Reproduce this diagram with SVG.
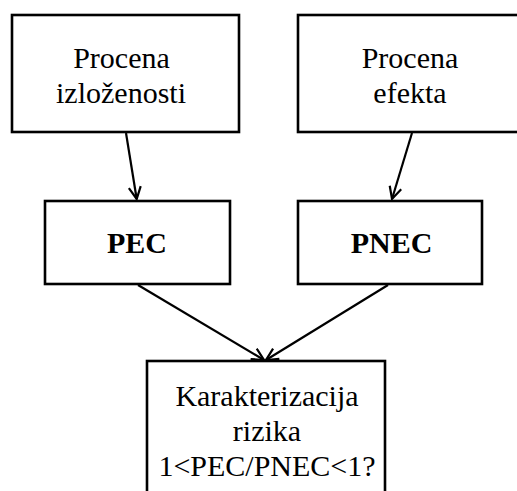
<svg xmlns="http://www.w3.org/2000/svg" width="517" height="491" viewBox="0 0 517 491">
<style>
.box{fill:#fff;stroke:#000;stroke-width:2.6}
.t{font-family:"Liberation Serif","Times New Roman",serif;font-size:30px;fill:#000;text-anchor:middle}
.b{font-weight:bold}
.c{stroke:#000;stroke-width:2.2;fill:none}
</style>
<defs>
<marker id="ah" markerUnits="userSpaceOnUse" markerWidth="16" markerHeight="16" refX="13" refY="7" orient="auto">
<path d="M1,1 L13,7 L1,13" fill="none" stroke="#000" stroke-width="2.2"/>
</marker>
</defs>
<rect width="517" height="491" fill="#fff"/>
<g id="connectors">
<line class="c" x1="126" y1="133" x2="136.7" y2="199" marker-end="url(#ah)"/>
<line class="c" x1="412" y1="133" x2="392" y2="199" marker-end="url(#ah)"/>
<line class="c" x1="138" y1="285" x2="264" y2="360" marker-end="url(#ah)"/>
<line class="c" x1="388" y1="285" x2="266" y2="360" marker-end="url(#ah)"/>
</g>
<g id="n1">
<rect class="box" x="12" y="15" width="227" height="117"/>
<text class="t" x="121.5" y="68">Procena</text>
<text class="t" x="121" y="103">izloženosti</text>
</g>
<g id="n2">
<rect class="box" x="298" y="15" width="230" height="117"/>
<text class="t" x="410" y="68">Procena</text>
<text class="t" x="410" y="103">efekta</text>
</g>
<g id="n3">
<rect class="box" x="45" y="201" width="185" height="83"/>
<text class="t b" x="137" y="253">PEC</text>
</g>
<g id="n4">
<rect class="box" x="298" y="201" width="184" height="83"/>
<text class="t b" x="391.5" y="253">PNEC</text>
</g>
<g id="n5">
<rect class="box" x="147" y="361" width="238" height="140"/>
<text class="t" x="267" y="406">Karakterizacija</text>
<text class="t" x="267" y="441">rizika</text>
<text class="t" x="267" y="476">1&lt;PEC/PNEC&lt;1?</text>
</g>
</svg>
